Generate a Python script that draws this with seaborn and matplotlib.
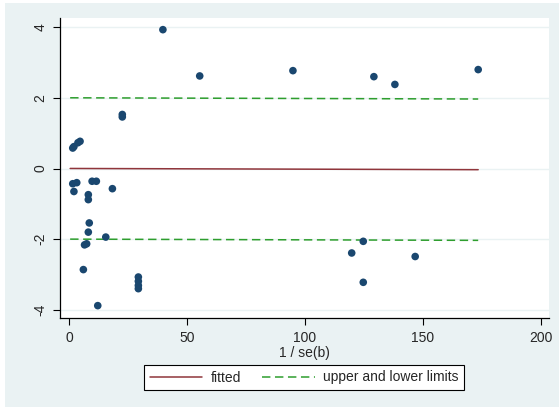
import numpy as np
import pandas as pd
import matplotlib
matplotlib.use("Agg")
import matplotlib.pyplot as plt
import seaborn as sns
from matplotlib.patches import Rectangle
from matplotlib.lines import Line2D

# ---- data ----
inv_se = [39.8, 55.4, 94.9, 129.2, 138.1, 173.4,
          22.6, 22.6, 1.6, 2.1, 3.8, 4.7,
          1.6, 3.3, 2.1, 8.2, 8.2, 9.8, 11.6, 18.4,
          8.6, 8.2, 15.6, 6.6, 7.5, 6.1, 12.2,
          29.4, 29.4, 29.4, 29.4,
          124.7, 119.8, 146.7, 124.7]
z_score = [3.93, 2.62, 2.77, 2.60, 2.38, 2.80,
           1.53, 1.46, 0.58, 0.62, 0.73, 0.77,
           -0.43, -0.40, -0.65, -0.74, -0.88, -0.36, -0.36, -0.57,
           -1.54, -1.80, -1.94, -2.16, -2.13, -2.86, -3.88,
           -3.07, -3.19, -3.31, -3.40,
           -2.06, -2.39, -2.49, -3.22]
fit_intercept = 0.002
fit_slope = -0.0002
limit_offset = 2.0
x_line = [0.5, 173.4]
xticks = [0, 50, 100, 150, 200]
yticks = [-4, -2, 0, 2, 4]
x_label = "1 / se(b)"
legend_labels = ["fitted", "upper and lower limits"]

# ---- styling ----
sns.set_theme(style="white")
plt.rcParams['font.family'] = ['Liberation Sans', 'DejaVu Sans']

W, H, DPI = 559, 407, 100
fig = plt.figure(figsize=(W / DPI, H / DPI), dpi=DPI, facecolor="white")
bg = "#EAF2F3"
fig.patches.append(Rectangle((5 / W, 0), 1 - 5 / W, 1 - 3 / H,
                             transform=fig.transFigure, facecolor=bg,
                             edgecolor="none", zorder=-10))

left, right = 60 / W, 549 / W
top, bottom = 1 - 18 / H, 1 - 318 / H
ax = fig.add_axes([left, bottom, right - left, top - bottom])
ax.set_facecolor("white")

marker_c = "#1A476F"
fit_c = "#90353B"
lim_c = "#2E9E2E"
FS = 10

fit_df = pd.DataFrame({"x": x_line})
fit_df["fit"] = fit_intercept + fit_slope * fit_df["x"]
fit_df["upper"] = fit_df["fit"] + limit_offset
fit_df["lower"] = fit_df["fit"] - limit_offset

for yv in yticks:
    ax.axhline(yv, color=bg, lw=1.0, zorder=0)

sns.lineplot(data=fit_df, x="x", y="fit", ax=ax, color=fit_c, lw=1.1, zorder=2)
for col in ["upper", "lower"]:
    sns.lineplot(data=fit_df, x="x", y=col, ax=ax, color=lim_c, lw=1.1,
                 dashes=False, zorder=2).lines[-1].set_dashes((5.5, 3))

pts = pd.DataFrame({"x": inv_se, "z": z_score})
sns.scatterplot(data=pts, x="x", y="z", ax=ax, color=marker_c, s=30,
                edgecolor="none", linewidth=0, zorder=3)

ax.set_xlim(-3.8, 203.4)
ax.set_ylim(-4.23, 4.26)
ax.set_xticks(xticks)
ax.set_yticks(yticks)
ax.set_xticklabels([str(v) for v in xticks], fontsize=FS)
ax.set_yticklabels([str(v) for v in yticks], fontsize=FS, rotation=90, va="center")
ax.tick_params(axis="both", direction="out", length=5, width=0.8, color="black",
               bottom=True, left=True)
ax.tick_params(axis="x", pad=4)
ax.tick_params(axis="y", pad=4)
ax.set_xlabel(x_label, fontsize=FS, labelpad=1)
ax.set_ylabel("")
for s in ["top", "right"]:
    ax.spines[s].set_visible(False)
for s in ["left", "bottom"]:
    ax.spines[s].set_color("black")
    ax.spines[s].set_linewidth(0.9)

handles = [Line2D([], [], color=fit_c, lw=1.1),
           Line2D([], [], color=lim_c, lw=1.1, dashes=(5.5, 3))]
leg = fig.legend(handles, legend_labels, ncol=2, loc="center",
                 bbox_to_anchor=(304 / W, 1 - 377.5 / H), fontsize=FS,
                 frameon=True, fancybox=False, edgecolor="black",
                 facecolor="white", framealpha=1, handlelength=3.8,
                 handletextpad=0.6, columnspacing=1.5, borderpad=0.4)
leg.get_frame().set_linewidth(0.8)

fig.savefig("out.png", dpi=DPI, facecolor=fig.get_facecolor())
